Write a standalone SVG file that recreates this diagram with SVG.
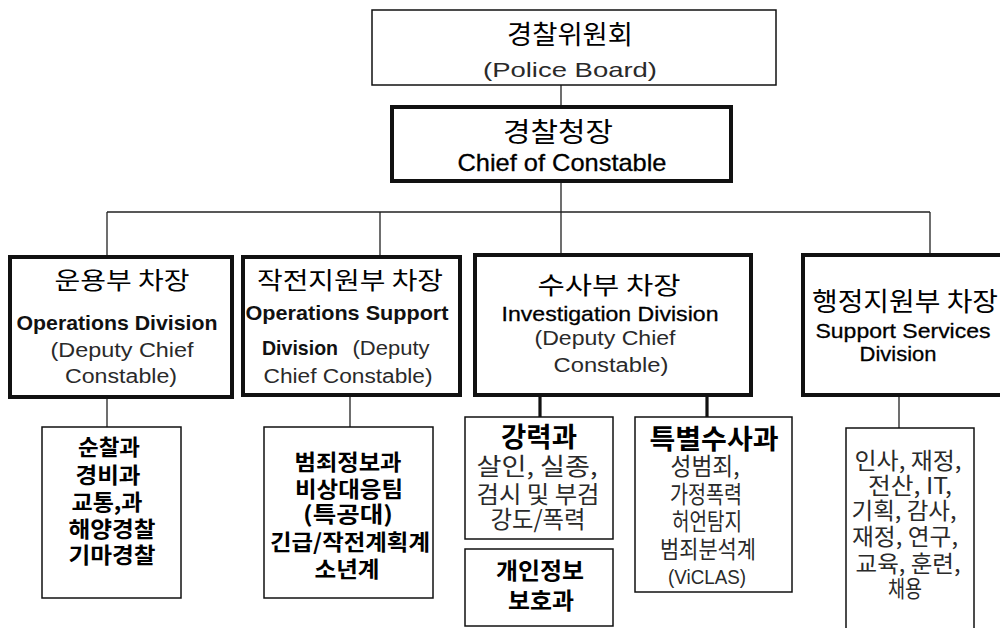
<svg xmlns="http://www.w3.org/2000/svg" width="1000" height="628" viewBox="0 0 1000 628">
<style>
text{font-family:"Liberation Sans","Noto Sans CJK KR",sans-serif;text-anchor:middle}
.k{font-family:"Noto Sans CJK KR","Liberation Sans",sans-serif}
.kb{font-family:"Noto Sans CJK KR","Liberation Sans",sans-serif;font-weight:bold}
.g{fill:#2a2a2a}
.eb{font-weight:bold;fill:#111}
.em{fill:#000;stroke:#000;stroke-width:0.3}
.thin{fill:#fff;stroke:#111;stroke-width:1.5}
.thick{fill:#fff;stroke:#111;stroke-width:4}
.c{stroke:#222;stroke-width:1.3;fill:none}
.ct{stroke:#111;stroke-width:3.2;fill:none}
</style>
<rect width="1000" height="628" fill="#fff"/>
<g id="connectors">
<path class="c" d="M561 85V107M561 181V257M107 212H930M107 212V257M380 212V257M930 212V255M107 397V427M350 395V427M899 395V428"/>
<path class="ct" d="M540 395V417M707 395V417"/>
</g>
<g id="board">
<rect class="thin" x="372" y="10" width="404" height="75"/>
<text class="k" x="570" y="44" font-size="26" textLength="126" lengthAdjust="spacingAndGlyphs">경찰위원회</text>
<text class="g" x="570" y="77" font-size="21" textLength="174" lengthAdjust="spacingAndGlyphs">(Police Board)</text>
</g>
<g id="chief">
<rect class="thick" x="392" y="107" width="339" height="74"/>
<text class="k" x="558" y="142" font-size="27" textLength="110" lengthAdjust="spacingAndGlyphs">경찰청장</text>
<text class="em" x="562" y="171" font-size="24" textLength="209" lengthAdjust="spacingAndGlyphs">Chief of Constable</text>
</g>
<g id="div-operations">
<rect class="thick" x="10" y="257" width="222" height="140"/>
<text class="k" x="122" y="289" font-size="24" textLength="135" lengthAdjust="spacingAndGlyphs">운용부 차장</text>
<text class="eb" x="117" y="330" font-size="21" textLength="201" lengthAdjust="spacingAndGlyphs">Operations Division</text>
<text class="g" x="122" y="357" font-size="20" textLength="143" lengthAdjust="spacingAndGlyphs">(Deputy Chief</text>
<text class="g" x="121" y="383" font-size="20" textLength="112" lengthAdjust="spacingAndGlyphs">Constable)</text>
</g>
<g id="div-opsupport">
<rect class="thick" x="243" y="257" width="217" height="138"/>
<text class="k" x="350" y="289" font-size="24" textLength="186" lengthAdjust="spacingAndGlyphs">작전지원부 차장</text>
<text class="eb" x="347" y="320" font-size="21" textLength="203" lengthAdjust="spacingAndGlyphs">Operations Support</text>
<text class="eb" x="300" y="355" font-size="21" textLength="76" lengthAdjust="spacingAndGlyphs">Division</text>
<text class="g" x="391" y="355" font-size="20" textLength="77" lengthAdjust="spacingAndGlyphs">(Deputy</text>
<text class="g" x="348" y="383" font-size="20" textLength="169" lengthAdjust="spacingAndGlyphs">Chief Constable)</text>
</g>
<g id="div-investigation">
<rect class="thick" x="475" y="255" width="276" height="140"/>
<text class="k" x="609" y="294" font-size="24" textLength="143" lengthAdjust="spacingAndGlyphs">수사부 차장</text>
<text class="em" x="610" y="321" font-size="21" textLength="217" lengthAdjust="spacingAndGlyphs">Investigation Division</text>
<text class="g" x="605" y="345" font-size="20" textLength="141" lengthAdjust="spacingAndGlyphs">(Deputy Chief</text>
<text class="g" x="611" y="372" font-size="20" textLength="115" lengthAdjust="spacingAndGlyphs">Constable)</text>
</g>
<g id="div-support">
<rect class="thick" x="803" y="255" width="210" height="140"/>
<text class="k" x="905" y="311" font-size="26" textLength="186" lengthAdjust="spacingAndGlyphs">행정지원부 차장</text>
<text class="em" x="903" y="338" font-size="21" textLength="175" lengthAdjust="spacingAndGlyphs">Support Services</text>
<text class="em" x="898" y="361" font-size="21" textLength="77" lengthAdjust="spacingAndGlyphs">Division</text>
</g>
<g id="sub-operations">
<rect class="thin" x="42" y="427" width="139" height="171"/>
<text class="kb" x="109" y="455" font-size="22" textLength="62" lengthAdjust="spacingAndGlyphs">순찰과</text>
<text class="kb" x="108" y="483" font-size="22" textLength="65" lengthAdjust="spacingAndGlyphs">경비과</text>
<text class="kb" x="107" y="510" font-size="22" textLength="71" lengthAdjust="spacingAndGlyphs">교통,과</text>
<text class="kb" x="112" y="537" font-size="22" textLength="87" lengthAdjust="spacingAndGlyphs">해양경찰</text>
<text class="kb" x="112" y="563" font-size="22" textLength="87" lengthAdjust="spacingAndGlyphs">기마경찰</text>
</g>
<g id="sub-opsupport">
<rect class="thin" x="264" y="427" width="169" height="171"/>
<text class="kb" x="348" y="470" font-size="22" textLength="107" lengthAdjust="spacingAndGlyphs">범죄정보과</text>
<text class="kb" x="349" y="497" font-size="22" textLength="108" lengthAdjust="spacingAndGlyphs">비상대응팀</text>
<text class="kb" x="348" y="522" font-size="22" textLength="90" lengthAdjust="spacingAndGlyphs">(특공대)</text>
<text class="kb" x="350" y="550" font-size="22" textLength="160" lengthAdjust="spacingAndGlyphs">긴급/작전계획계</text>
<text class="kb" x="347" y="577" font-size="22" textLength="65" lengthAdjust="spacingAndGlyphs">소년계</text>
</g>
<g id="sub-violent">
<rect class="thin" x="465" y="417" width="148" height="122"/>
<text class="kb" x="539" y="447" font-size="27" textLength="76" lengthAdjust="spacingAndGlyphs">강력과</text>
<text class="k g" x="537" y="475" font-size="24" textLength="121" lengthAdjust="spacingAndGlyphs">살인, 실종,</text>
<text class="k g" x="538" y="503" font-size="24" textLength="123" lengthAdjust="spacingAndGlyphs">검시 및 부검</text>
<text class="k g" x="538" y="528" font-size="24" textLength="95" lengthAdjust="spacingAndGlyphs">강도/폭력</text>
</g>
<g id="sub-privacy">
<rect class="thin" x="465" y="549" width="148" height="77"/>
<text class="kb" x="540" y="579" font-size="23" textLength="88" lengthAdjust="spacingAndGlyphs">개인정보</text>
<text class="kb" x="541" y="609" font-size="23" textLength="66" lengthAdjust="spacingAndGlyphs">보호과</text>
</g>
<g id="sub-special">
<rect class="thin" x="635" y="417" width="157" height="175"/>
<text class="kb" x="714" y="449" font-size="27" textLength="129" lengthAdjust="spacingAndGlyphs">특별수사과</text>
<text class="k g" x="705" y="475" font-size="24" textLength="69" lengthAdjust="spacingAndGlyphs">성범죄,</text>
<text class="k g" x="706" y="503" font-size="24" textLength="72" lengthAdjust="spacingAndGlyphs">가정폭력</text>
<text class="k g" x="707" y="530" font-size="24" textLength="70" lengthAdjust="spacingAndGlyphs">허언탐지</text>
<text class="k g" x="708" y="558" font-size="24" textLength="96" lengthAdjust="spacingAndGlyphs">범죄분석계</text>
<text class="g" x="707" y="584" font-size="21" textLength="78" lengthAdjust="spacingAndGlyphs">(ViCLAS)</text>
</g>
<g id="sub-support">
<rect class="thin" x="846" y="428" width="128" height="220"/>
<text class="k g" x="908" y="469" font-size="23" textLength="107" lengthAdjust="spacingAndGlyphs">인사, 재정,</text>
<text class="k g" x="910" y="494" font-size="23" textLength="84" lengthAdjust="spacingAndGlyphs">전산, IT,</text>
<text class="k g" x="904" y="519" font-size="23" textLength="105" lengthAdjust="spacingAndGlyphs">기획, 감사,</text>
<text class="k g" x="905" y="545" font-size="23" textLength="106" lengthAdjust="spacingAndGlyphs">재정, 연구,</text>
<text class="k g" x="908" y="572" font-size="23" textLength="105" lengthAdjust="spacingAndGlyphs">교육, 훈련,</text>
<text class="k g" x="905" y="597" font-size="23" textLength="34" lengthAdjust="spacingAndGlyphs">채용</text>
</g>
</svg>
